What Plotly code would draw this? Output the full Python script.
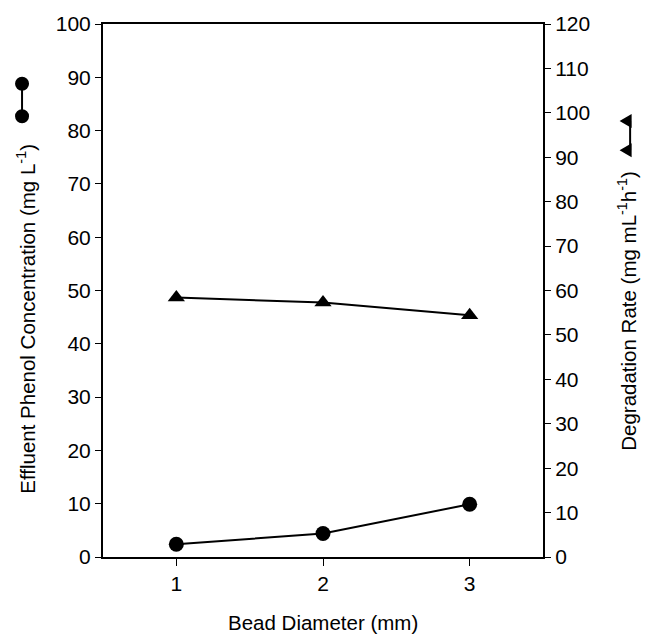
import plotly.graph_objects as go

bead_diameter = [1, 2, 3]
phenol_conc = [2.4, 4.4, 9.9]          # left axis, mg L-1
degradation_rate = [58.4, 57.3, 54.4]  # right axis, mg mL-1 h-1

x_ticks = [1, 2, 3]
FONT = "Liberation Sans, Arial, sans-serif"
TICK_SIZE = 21
TITLE_SIZE = 20.5

fig = go.Figure()
fig.add_trace(go.Scatter(
    x=bead_diameter, y=phenol_conc, mode="lines+markers",
    line=dict(color="black", width=2),
    marker=dict(symbol="circle", size=15, color="black"),
    showlegend=False, yaxis="y"))
fig.add_trace(go.Scatter(
    x=bead_diameter, y=degradation_rate, mode="lines+markers",
    line=dict(color="black", width=2),
    marker=dict(symbol="triangle-up", size=15, color="black"),
    showlegend=False, yaxis="y2"))

axis_common = dict(showgrid=False, zeroline=False, showline=True, linecolor="black",
                   linewidth=2, ticks="outside", tickcolor="black", tickwidth=1,
                   tickfont=dict(family=FONT, size=TICK_SIZE, color="black"))

fig.update_layout(
    width=645, height=634,
    margin=dict(l=103, r=102, t=20, b=77),
    paper_bgcolor="white", plot_bgcolor="white",
    font=dict(family=FONT, size=TITLE_SIZE, color="black"),
    xaxis=dict(range=[0.5, 3.5], tickvals=x_ticks, ticklen=7, mirror=True, **axis_common),
    yaxis=dict(range=[0, 100], dtick=10, ticklen=6, **axis_common),
    yaxis2=dict(range=[0, 120], dtick=10, ticklen=6, overlaying="y", side="right",
                **axis_common),
    annotations=[
        dict(text="Effluent Phenol Concentration (mg L<sup>-1</sup>)", textangle=-90,
             xref="paper", yref="paper", x=-0.175, y=0.447, showarrow=False,
             xanchor="center", yanchor="middle", font=dict(size=TITLE_SIZE)),
        dict(text="Degradation Rate (mg mL<sup>-1</sup>h<sup>-1</sup>)", textangle=-90,
             xref="paper", yref="paper", x=1.191, y=0.462, showarrow=False,
             xanchor="center", yanchor="middle", font=dict(size=TITLE_SIZE)),
        dict(text="Bead Diameter (mm)", xref="paper", yref="paper", x=0.5, y=-0.122,
             showarrow=False, xanchor="center", yanchor="middle", font=dict(size=TITLE_SIZE)),
    ],
)

# legend-like symbols beside the axis titles
shapes = []
lx, ly1, ly2 = -0.184, 0.888, 0.827
shapes.append(dict(type="line", xref="paper", yref="paper", x0=lx, x1=lx, y0=ly1, y1=ly2,
                   line=dict(color="black", width=2)))
for yy in (ly1, ly2):
    shapes.append(dict(type="circle", xref="paper", yref="paper", xsizemode="pixel",
                       ysizemode="pixel", xanchor=lx, yanchor=yy, x0=-7, x1=7, y0=-7, y1=7,
                       fillcolor="black", line=dict(color="black", width=0)))
rx, ry1, ry2 = 1.190, 0.818, 0.763
shapes.append(dict(type="line", xref="paper", yref="paper",
                   x0=rx + 0.008, x1=rx + 0.008, y0=ry1, y1=ry2,
                   line=dict(color="black", width=2)))
for yy in (ry1, ry2):
    shapes.append(dict(type="path", xref="paper", yref="paper", xsizemode="pixel",
                       ysizemode="pixel", xanchor=rx, yanchor=yy,
                       path="M 5,-7 L 5,7 L -7,0 Z",
                       fillcolor="black", line=dict(color="black", width=0)))
fig.update_layout(shapes=shapes)

fig.write_html("out.html")
